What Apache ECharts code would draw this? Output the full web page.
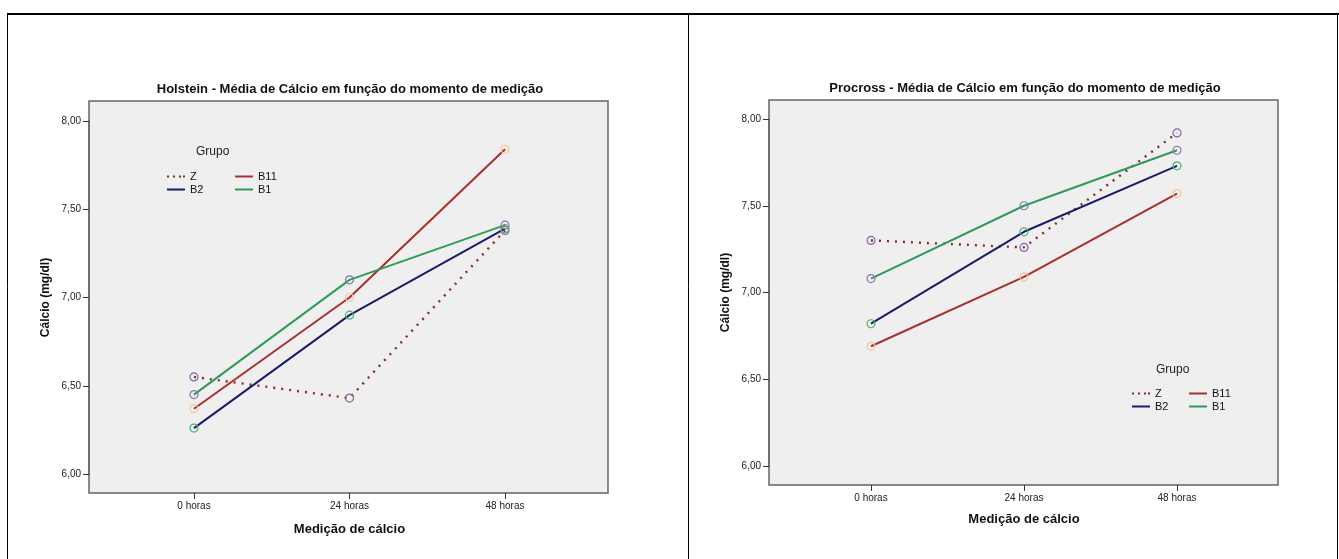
<!DOCTYPE html>
<html>
<head>
<meta charset="utf-8">
<script src="https://cdn.jsdelivr.net/npm/echarts@6/dist/echarts.min.js"></script>
<style>
  html, body { margin: 0; padding: 0; background: #fff; }
  #chart { width: 1339px; height: 559px; }
</style>
</head>
<body>
<div id="chart"></div>
<script>
// categorias do eixo x
var categories = ["0 horas", "24 horas", "48 horas"];
var groups = ["Z", "B11", "B2", "B1"];

// Holstein - médias de cálcio (mg/dl)
var holsteinZ = [6.55, 6.43, 7.38];
var holsteinB11 = [6.37, 7.0, 7.84];
var holsteinB2 = [6.26, 6.9, 7.39];
var holsteinB1 = [6.45, 7.1, 7.41];

// Procross - médias de cálcio (mg/dl)
var procrossZ = [7.3, 7.26, 7.92];
var procrossB11 = [6.69, 7.09, 7.57];
var procrossB2 = [6.82, 7.35, 7.73];
var procrossB1 = [7.08, 7.5, 7.82];

var yMin = 6, yMax = 8, yStep = 0.5;

var lineColors = { Z: "#8b2a2a", B11: "#a8302c", B2: "#1b1b6b", B1: "#2f9a5a" };
var markColors = { Z: "#7d6aa8", B11: "#f2c898", B2: "#4db46c", B1: "#8677b0" };
var font = "Liberation Sans, Arial, sans-serif";

function makeSeries(name, values, idx) {
  return {
    name: name,
    type: "line",
    xAxisIndex: idx,
    yAxisIndex: idx,
    symbol: "circle",
    symbolSize: 8,
    lineStyle: {
      color: lineColors[name],
      width: name === "Z" ? 2.4 : 2,
      type: name === "Z" ? [2, 6] : "solid",
      cap: "butt",
    },
    itemStyle: {
      color: "rgba(0,0,0,0)",
      borderColor: markColors[name],
      borderWidth: 1.2,
    },
    data: values,
  };
}

function legendItem(name) {
  return {
    name: name,
    icon: name === "Z"
      ? "path://M0,0h2v2h-2zM6,0h2v2h-2zM12,0h2v2h-2zM16,0h2v2h-2z"
      : "path://M0,0h18v2h-18z",
    itemStyle: { color: lineColors[name], borderWidth: 0 },
  };
}

function makeLegend(left, top, names) {
  return {
    orient: "vertical",
    left: left,
    top: top,
    itemWidth: 18,
    itemHeight: 2,
    itemGap: 2,
    selectedMode: false,
    textStyle: { fontFamily: font, fontSize: 11, color: "#111", lineHeight: 11 },
    data: names.map(legendItem),
  };
}

function makeX(idx) {
  return {
    type: "category",
    gridIndex: idx,
    data: categories,
    boundaryGap: false,
    offset: 19,
    axisLine: { show: false },
    axisTick: { show: true, length: 6, alignWithLabel: true, lineStyle: { color: "#333" } },
    axisLabel: { fontFamily: font, fontSize: 10, color: "#222", margin: 8 },
    name: "Medição de cálcio",
    nameLocation: "middle",
    nameGap: idx === 0 ? 30 : 28,
    nameTextStyle: { fontFamily: font, fontSize: 13, fontWeight: "bold", color: "#111" },
  };
}

function makeY(idx, offset) {
  return {
    type: "value",
    gridIndex: idx,
    min: yMin,
    max: yMax,
    interval: yStep,
    offset: offset,
    axisLine: { show: true, lineStyle: { color: "#666", width: 1.5 } },
    axisTick: { show: true, length: 6, lineStyle: { color: "#333" } },
    axisLabel: {
      fontFamily: font, fontSize: 10, color: "#222", margin: 8,
      formatter: function (v) { return v.toFixed(2).replace(".", ","); },
    },
    splitLine: { show: false },
    name: "Cálcio (mg/dl)",
    nameLocation: "middle",
    nameGap: 37,
    nameTextStyle: { fontFamily: font, fontSize: 12, fontWeight: "bold", color: "#111" },
  };
}

const myChart = echarts.init(document.getElementById("chart"));
var option = {
  backgroundColor: "#fff",
  animation: false,
  title: [
    {
      text: "Holstein - Média de Cálcio em função do momento de medição",
      left: 345, top: 78, textAlign: "center",
      textStyle: { fontFamily: font, fontSize: 13, fontWeight: "bold", color: "#111" },
    },
    {
      text: "Procross - Média de Cálcio em função do momento de medição",
      left: 1020, top: 77, textAlign: "center",
      textStyle: { fontFamily: font, fontSize: 13, fontWeight: "bold", color: "#111" },
    },
  ],
  grid: [
    { left: 194, right: 834, top: 121, bottom: 85 },
    { left: 871, right: 162, top: 119, bottom: 93 },
  ],
  xAxis: [makeX(0), makeX(1)],
  yAxis: [makeY(0, 105), makeY(1, 102)],
  legend: [
    makeLegend(162, 166, ["Z", "B2"]),
    makeLegend(230, 166, ["B11", "B1"]),
    makeLegend(1127, 383, ["Z", "B2"]),
    makeLegend(1184, 383, ["B11", "B1"]),
  ],
  graphic: [
    // moldura da tabela
    { type: "line", shape: { x1: 7, y1: 14, x2: 1339, y2: 14 }, style: { stroke: "#000", lineWidth: 2 } },
    { type: "line", shape: { x1: 7.5, y1: 14, x2: 7.5, y2: 559 }, style: { stroke: "#000", lineWidth: 1 } },
    { type: "line", shape: { x1: 688.5, y1: 14, x2: 688.5, y2: 559 }, style: { stroke: "#000", lineWidth: 1 } },
    { type: "line", shape: { x1: 1337.5, y1: 14, x2: 1337.5, y2: 559 }, style: { stroke: "#000", lineWidth: 1 } },
    // painéis dos gráficos
    { type: "rect", z: -1, shape: { x: 89, y: 101, width: 519, height: 392 }, style: { fill: "#efefef", stroke: "#666", lineWidth: 1.5 } },
    { type: "rect", z: -1, shape: { x: 769, y: 100, width: 509, height: 385 }, style: { fill: "#efefef", stroke: "#666", lineWidth: 1.5 } },
    { type: "text", left: 196, top: 146, style: { text: "Grupo", font: "12px " + font, fill: "#222" } },
    { type: "text", left: 1156, top: 364, style: { text: "Grupo", font: "12px " + font, fill: "#222" } },
  ],
  series: [
    makeSeries("Z", holsteinZ, 0),
    makeSeries("B11", holsteinB11, 0),
    makeSeries("B2", holsteinB2, 0),
    makeSeries("B1", holsteinB1, 0),
    makeSeries("Z", procrossZ, 1),
    makeSeries("B11", procrossB11, 1),
    makeSeries("B2", procrossB2, 1),
    makeSeries("B1", procrossB1, 1),
  ],
};
myChart.setOption(option);
window.addEventListener("resize", function () {
  myChart.resize();
});
</script>
</body>
</html>
